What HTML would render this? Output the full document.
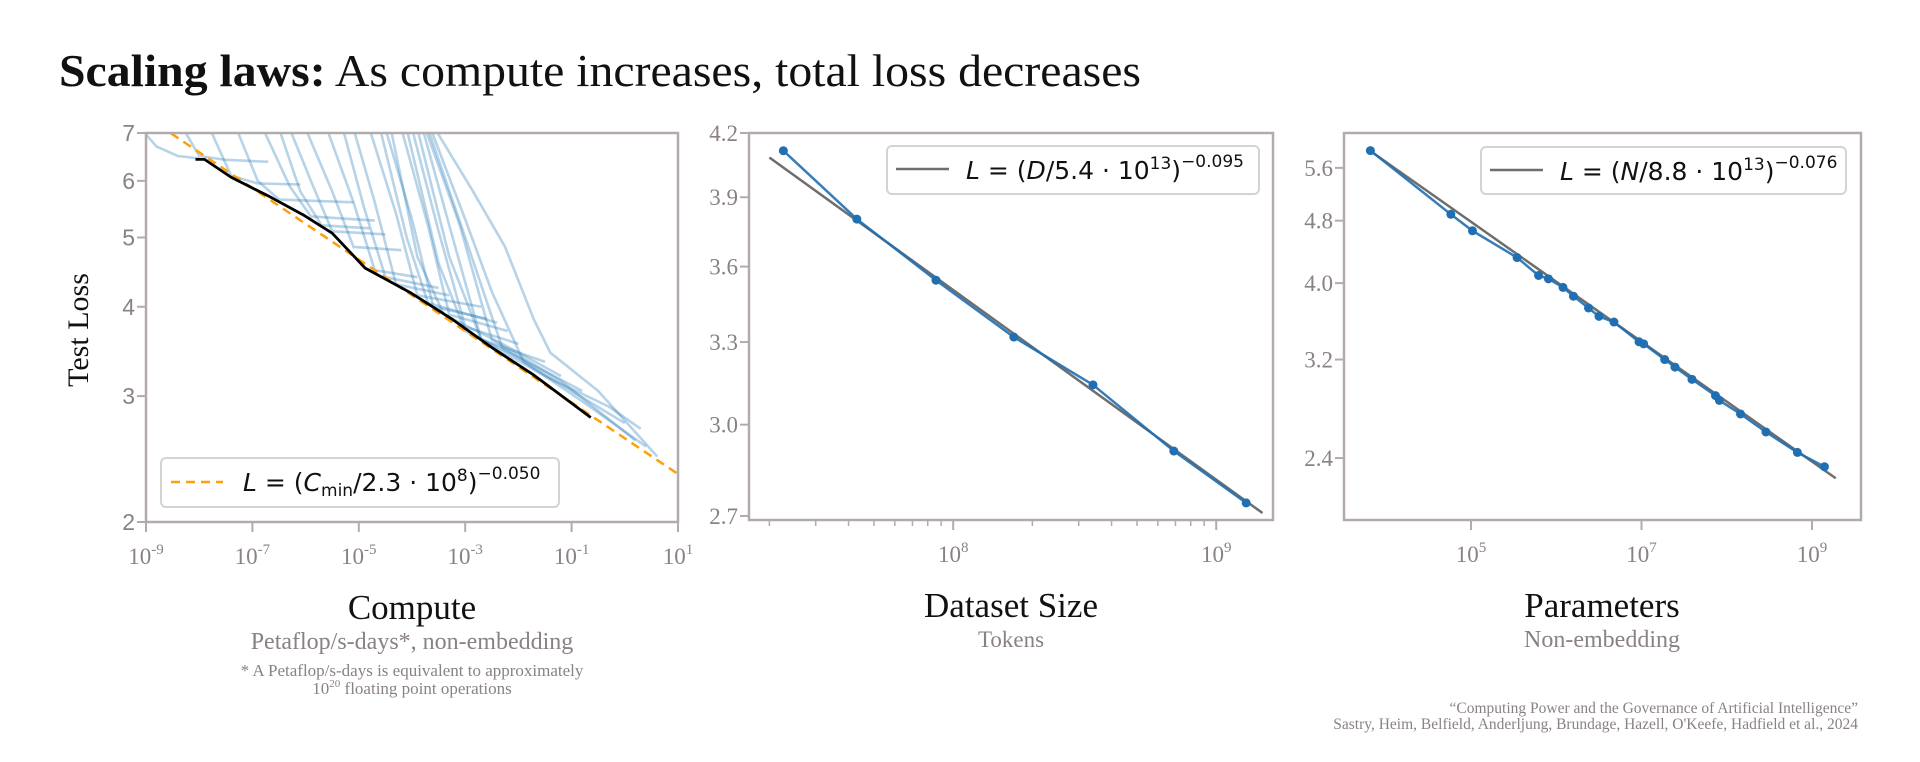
<!DOCTYPE html>
<html><head><meta charset="utf-8"><style>
html,body{margin:0;padding:0;background:#fff;}
svg{display:block;}
.tk{font-family:"Liberation Serif",serif;font-size:23px;fill:#8a8282;}
.tks{font-family:"Liberation Sans",sans-serif;font-size:23px;fill:#8a8282;}
.lg{font-family:"DejaVu Sans",sans-serif;font-size:25px;fill:#111;}
.ax{font-family:"Liberation Serif",serif;font-size:35px;fill:#111;}
.sub{font-family:"Liberation Serif",serif;font-size:24px;fill:#8a8282;}
.note{font-family:"Liberation Serif",serif;font-size:17px;fill:#8a8282;}
.cred{font-family:"Liberation Serif",serif;font-size:15.5px;fill:#8a8282;}
</style></head><body>
<svg id="chart" width="1920" height="762" viewBox="0 0 1920 762" xmlns="http://www.w3.org/2000/svg">
<text x="59" y="86" font-family="Liberation Serif, serif" font-size="46" fill="#111" textLength="1082" lengthAdjust="spacingAndGlyphs"><tspan font-weight="bold">Scaling laws:</tspan> As compute increases, total loss decreases</text>
<g id="p1"></g>
<g id="p2"></g>
<g id="p3"></g>
<text class="ax" style="font-size:30px" transform="translate(88,330) rotate(-90)" text-anchor="middle">Test Loss</text>
<text class="ax" x="412" y="619" text-anchor="middle">Compute</text>
<text class="sub" x="412" y="649" text-anchor="middle">Petaflop/s-days*, non-embedding</text>
<text class="note" x="412" y="676" text-anchor="middle">* A Petaflop/s-days is equivalent to approximately</text>
<text class="note" x="412" y="694" text-anchor="middle">10<tspan style="font-size:11px" dy="-7">20</tspan><tspan dy="7"> floating point operations</tspan></text>
<text class="ax" x="1011" y="617" text-anchor="middle">Dataset Size</text>
<text class="sub" style="font-size:23px" x="1011" y="647" text-anchor="middle">Tokens</text>
<text class="ax" x="1602" y="617" text-anchor="middle">Parameters</text>
<text class="sub" x="1602" y="647" text-anchor="middle">Non-embedding</text>
<text class="cred" x="1858" y="713" text-anchor="end">“Computing Power and the Governance of Artificial Intelligence”</text>
<text class="cred" x="1858" y="729" text-anchor="end">Sastry, Heim, Belfield, Anderljung, Brundage, Hazell, O'Keefe, Hadfield et al., 2024</text>
</svg>
<script>
// ---------- data ----------
const computeTicks = [-9,-7,-5,-3,-1,1];
const computeTickLabels = ["-9","-7","-5","-3","-1","1"];
const lossTicksCompute = [2,3,4,5,6,7];
const frontierLogC = [-8.07,-7.9,-7.4,-6.67,-6.05,-5.5,-4.88,-4.04,-3.26,-2.48,-1.71,-0.64];
const frontierLoss = [6.43,6.43,6.07,5.70,5.38,5.07,4.53,4.19,3.85,3.50,3.21,2.80];
const learningCurves = [
 [[-9.1,7.1],[-8.8,6.7],[-8.4,6.5],[-8.0,6.45]],
 [[-8.3,7.1],[-8.0,6.5],[-7.5,6.42],[-6.7,6.38]],
 [[-7.8,7.1],[-7.4,6.1],[-6.9,5.95],[-6.1,5.93]],
 [[-7.3,7.1],[-6.9,6.0],[-6.5,5.65],[-5.1,5.6]],
 [[-6.8,7.1],[-6.3,5.9],[-5.9,5.35],[-4.7,5.28]],
 [[-6.3,7.1],[-5.9,6.0],[-5.5,5.1],[-4.5,5.05]],
 [[-6.0,7.1],[-5.5,5.8],[-5.1,4.85],[-4.2,4.8]],
 [[-5.6,7.1],[-5.1,5.6],[-4.7,4.5],[-3.9,4.4]],
 [[-5.1,7.1],[-4.7,5.6],[-4.3,4.3],[-3.3,4.15]],
 [[-4.8,7.1],[-4.3,5.4],[-3.9,4.15],[-2.7,4.0]],
 [[-4.5,7.1],[-4.0,5.3],[-3.6,4.0],[-2.6,3.85]],
 [[-4.2,7.1],[-3.7,5.2],[-3.3,3.9],[-2.2,3.7]],
 [[-4.0,7.1],[-3.5,5.1],[-3.0,3.75],[-2.0,3.55]],
 [[-3.8,7.1],[-3.3,5.2],[-2.7,3.6],[-1.5,3.35]],
 [[-3.57,7.1],[-2.87,5.83],[-2.25,4.85],[-1.71,3.84],[-1.4,3.45],[-0.5,3.05],[0.61,2.47]],
 [[-3.7,7.1],[-3.0,5.0],[-2.3,3.5],[-1.0,3.05],[0.0,2.75]],
 [[-3.9,7.1],[-3.3,4.7],[-2.7,3.6],[-1.5,3.2],[-0.3,2.9],[0.3,2.7]],
 [[-4.1,7.1],[-3.5,4.6],[-3.0,3.7],[-2.0,3.4],[-0.8,3.05]],
 [[-4.4,7.1],[-3.9,4.7],[-3.4,3.9],[-2.3,3.55],[-1.2,3.2]],
 [[-3.65,7.1],[-3.0,5.3],[-2.5,4.2],[-1.9,3.35],[-0.8,2.95],[0.4,2.55]],
 [[-5.3,7.1],[-4.9,5.5],[-4.5,4.4],[-3.5,4.25]],
 [[-4.6,7.1],[-4.1,5.0],[-3.7,4.05],[-2.4,3.8]],
 [[-6.5,7.1],[-6.1,5.8],[-5.7,5.2],[-4.8,5.15]],
 [[-3.75,7.1],[-3.1,5.2],[-2.5,3.6],[-1.2,3.15],[0.2,2.6]]
];
const computeFitScale = 2.3e8, computeFitExp = 0.050;

const datasetTokens = [2.26e7,4.3e7,8.6e7,1.7e8,3.4e8,6.9e8,1.3e9];
const datasetLoss = [4.115,3.803,3.544,3.319,3.141,2.910,2.741];
const datasetYTicks = [2.7,3.0,3.3,3.6,3.9,4.2];
const datasetYTickLabels = ["2.7","3.0","3.3","3.6","3.9","4.2"];
const datasetXTicks = [8,9];
const datasetFitScale = 5.4e13, datasetFitExp = 0.095;

const paramCounts = [6.6e3,5.8e4,1.04e5,3.47e5,6.2e5,8.1e5,1.2e6,1.59e6,2.39e6,3.17e6,4.75e6,9.35e6,1.06e7,1.87e7,2.47e7,3.91e7,7.38e7,8.2e7,1.45e8,2.88e8,6.74e8,1.4e9];
const paramLoss = [5.89,4.89,4.66,4.31,4.09,4.05,3.95,3.85,3.72,3.63,3.57,3.37,3.35,3.20,3.13,3.02,2.88,2.84,2.73,2.59,2.44,2.34];
const paramYTicks = [2.4,3.2,4.0,4.8,5.6];
const paramYTickLabels = ["2.4","3.2","4.0","4.8","5.6"];
const paramXTicks = [5,7,9];
const paramFitScale = 8.8e13, paramFitExp = 0.076;

// ---------- helpers ----------
const NS="http://www.w3.org/2000/svg";
function mk(tag, attrs, parent){const e=document.createElementNS(NS,tag);for(const k in attrs)e.setAttribute(k,attrs[k]);parent.appendChild(e);return e;}
function logScale(d0,d1,r0,r1){const a=Math.log(d0),b=Math.log(d1);return v=>r0+(Math.log(v)-a)/(b-a)*(r1-r0);}
function linScale(d0,d1,r0,r1){return v=>r0+(v-d0)/(d1-d0)*(r1-r0);}
const FRAME="#b3abab", TXT="#8a8282";

function frame(g,x0,y0,x1,y1){
  const r=mk('rect',{x:x0,y:y0,width:x1-x0,height:y1-y0,fill:'none',stroke:FRAME,'stroke-width':2.5},g);
  
  
}
function yTick(g,x0,y,label,cls){
  const l=mk('line',{x1:x0-9,x2:x0,y1:y,y2:y,stroke:FRAME,'stroke-width':2},g);
  
  
  const t=mk('text',{x:x0-11,y:y+8,'text-anchor':'end',class:cls},g);
  t.textContent=label;
  
  
}
function xTickPow(g,x,y1,exp,len){
  const l=mk('line',{x1:x,x2:x,y1:y1,y2:y1+len,stroke:FRAME,'stroke-width':2},g);
  
  
  const t=mk('text',{x:x,y:y1+42,'text-anchor':'middle',class:'tk'},g);
  
  
  t.innerHTML='10<tspan style="font-size:15px" dy="-10">'+exp+'</tspan>';
}
function minorTick(g,x,y1){
  const l=mk('line',{x1:x,x2:x,y1:y1,y2:y1+6,stroke:FRAME,'stroke-width':1.5},g);
  
  
}
function legendBox(g,x0,y0,x1,y1){
  const r=mk('rect',{x:x0,y:y0,width:x1-x0,height:y1-y0,rx:5,fill:'#fff',stroke:'#d6d2d2','stroke-width':2},g);
  
  
}

// ---------- panel 1: compute ----------
(function(){
  const g=document.getElementById('p1');
  const X0=146,X1=678,Y0=133,Y1=522;
  const xs=linScale(-9,1,X0,X1), ys=logScale(7,2,Y0,Y1);
  const clip=mk('clipPath',{id:'c1'},g); mk('rect',{x:X0,y:Y0,width:X1-X0,height:Y1-Y0},clip);
  const pg=mk('g',{'clip-path':'url(#c1)'},g);
  learningCurves.forEach(c=>{
    const p=mk('polyline',{points:c.map(d=>xs(d[0])+','+ys(d[1])).join(' '),fill:'none',stroke:'rgba(31,119,180,0.32)','stroke-width':2.6,'stroke-linejoin':'round'},pg);
    
    
  });
  const fx=[]; for(let lc=-9;lc<=1.001;lc+=0.25){fx.push(lc);}
  const fit=mk('polyline',{points:fx.map(lc=>xs(lc)+','+ys(Math.pow(Math.pow(10,lc)/computeFitScale,-computeFitExp))).join(' '),fill:'none',stroke:'#ff9f0a','stroke-width':2.5,'stroke-dasharray':'9,6'},pg);
  
  
  const fr=mk('polyline',{points:frontierLogC.map((v,i)=>xs(v)+','+ys(frontierLoss[i])).join(' '),fill:'none',stroke:'#000','stroke-width':2.8,'stroke-linejoin':'round'},pg);
  
  
  frame(g,X0,Y0,X1,Y1);
  lossTicksCompute.forEach(v=>yTick(g,X0,ys(v),String(v),'tks'));
  computeTicks.forEach((v,i)=>xTickPow(g,xs(v),Y1,computeTickLabels[i],10));
  legendBox(g,161,458,559,507);
  const ll=mk('line',{x1:171,x2:223,y1:482,y2:482,stroke:'#ff9f0a','stroke-width':2.5,'stroke-dasharray':'9,6'},g);
  
  
  const t=mk('text',{x:243,y:491,class:'lg'},g);
  
  
  t.innerHTML='<tspan font-style="italic">L</tspan> = (<tspan font-style="italic">C</tspan><tspan style="font-size:17px" dy="5">min</tspan><tspan dy="-5">/2.3 · 10</tspan><tspan style="font-size:17px" dy="-10">8</tspan><tspan dy="10">)</tspan><tspan style="font-size:17px" dy="-12">−0.050</tspan>';
})();

// ---------- panel 2: dataset ----------
(function(){
  const g=document.getElementById('p2');
  const X0=749,X1=1273,Y0=133,Y1=520;
  const xs=logScale(Math.pow(10,7.2235),Math.pow(10,9.216),X0,X1), ys=logScale(4.2,2.6875,Y0,Y1);
  frame(g,X0,Y0,X1,Y1);
  for(let e=7;e<=9;e++){for(let m=2;m<=9;m++){const v=m*Math.pow(10,e);const x=xs(v);if(x>X0&&x<X1)minorTick(g,x,Y1);}}
  datasetXTicks.forEach(e=>xTickPow(g,xs(Math.pow(10,e)),Y1,String(e),10));
  datasetYTicks.forEach((v,i)=>yTick(g,X0,ys(v),datasetYTickLabels[i],'tk'));
  const fx=[2e7,1.5e9];
  const fit=mk('polyline',{points:fx.map(d=>xs(d)+','+ys(Math.pow(d/datasetFitScale,-datasetFitExp))).join(' '),fill:'none',stroke:'#6e6e6e','stroke-width':2.5},g);
  
  
  const ln=mk('polyline',{points:datasetTokens.map((d,i)=>xs(d)+','+ys(datasetLoss[i])).join(' '),fill:'none',stroke:'#1f6fb2','stroke-width':2.5,'stroke-opacity':0.9},g);
  
  
  datasetTokens.forEach((d,i)=>{
    const c=mk('circle',{cx:xs(d),cy:ys(datasetLoss[i]),r:4.5,fill:'#1f6fb2'},g);
    
    
  });
  legendBox(g,887,146,1259,194);
  const ll=mk('line',{x1:896,x2:949,y1:169,y2:169,stroke:'#6e6e6e','stroke-width':2.5},g);
  
  
  const t=mk('text',{x:966,y:179,class:'lg'},g);
  
  
  t.innerHTML='<tspan font-style="italic">L</tspan> = (<tspan font-style="italic">D</tspan>/5.4 · 10<tspan style="font-size:17px" dy="-10">13</tspan><tspan dy="10">)</tspan><tspan style="font-size:17px" dy="-12">−0.095</tspan>';
})();

// ---------- panel 3: parameters ----------
(function(){
  const g=document.getElementById('p3');
  const X0=1344,X1=1861,Y0=133,Y1=520;
  const xs=logScale(Math.pow(10,3.51),Math.pow(10,9.575),X0,X1), ys=logScale(6.20,2.003,Y0,Y1);
  frame(g,X0,Y0,X1,Y1);
  paramXTicks.forEach(e=>xTickPow(g,xs(Math.pow(10,e)),Y1,String(e),10));
  paramYTicks.forEach((v,i)=>yTick(g,X0,ys(v),paramYTickLabels[i],'tk'));
  const fx=[6.6e3,1.9e9];
  const fit=mk('polyline',{points:fx.map(d=>xs(d)+','+ys(Math.pow(d/paramFitScale,-paramFitExp))).join(' '),fill:'none',stroke:'#6e6e6e','stroke-width':2.5},g);
  
  
  const ln=mk('polyline',{points:paramCounts.map((d,i)=>xs(d)+','+ys(paramLoss[i])).join(' '),fill:'none',stroke:'#1f6fb2','stroke-width':2.5,'stroke-opacity':0.9},g);
  
  
  paramCounts.forEach((d,i)=>{
    const c=mk('circle',{cx:xs(d),cy:ys(paramLoss[i]),r:4.5,fill:'#1f6fb2'},g);
    
    
  });
  legendBox(g,1481,147,1846,194);
  const ll=mk('line',{x1:1490,x2:1543,y1:170,y2:170,stroke:'#6e6e6e','stroke-width':2.5},g);
  
  
  const t=mk('text',{x:1560,y:180,class:'lg'},g);
  
  
  t.innerHTML='<tspan font-style="italic">L</tspan> = (<tspan font-style="italic">N</tspan>/8.8 · 10<tspan style="font-size:17px" dy="-10">13</tspan><tspan dy="10">)</tspan><tspan style="font-size:17px" dy="-12">−0.076</tspan>';
})();
</script>
</body></html>
